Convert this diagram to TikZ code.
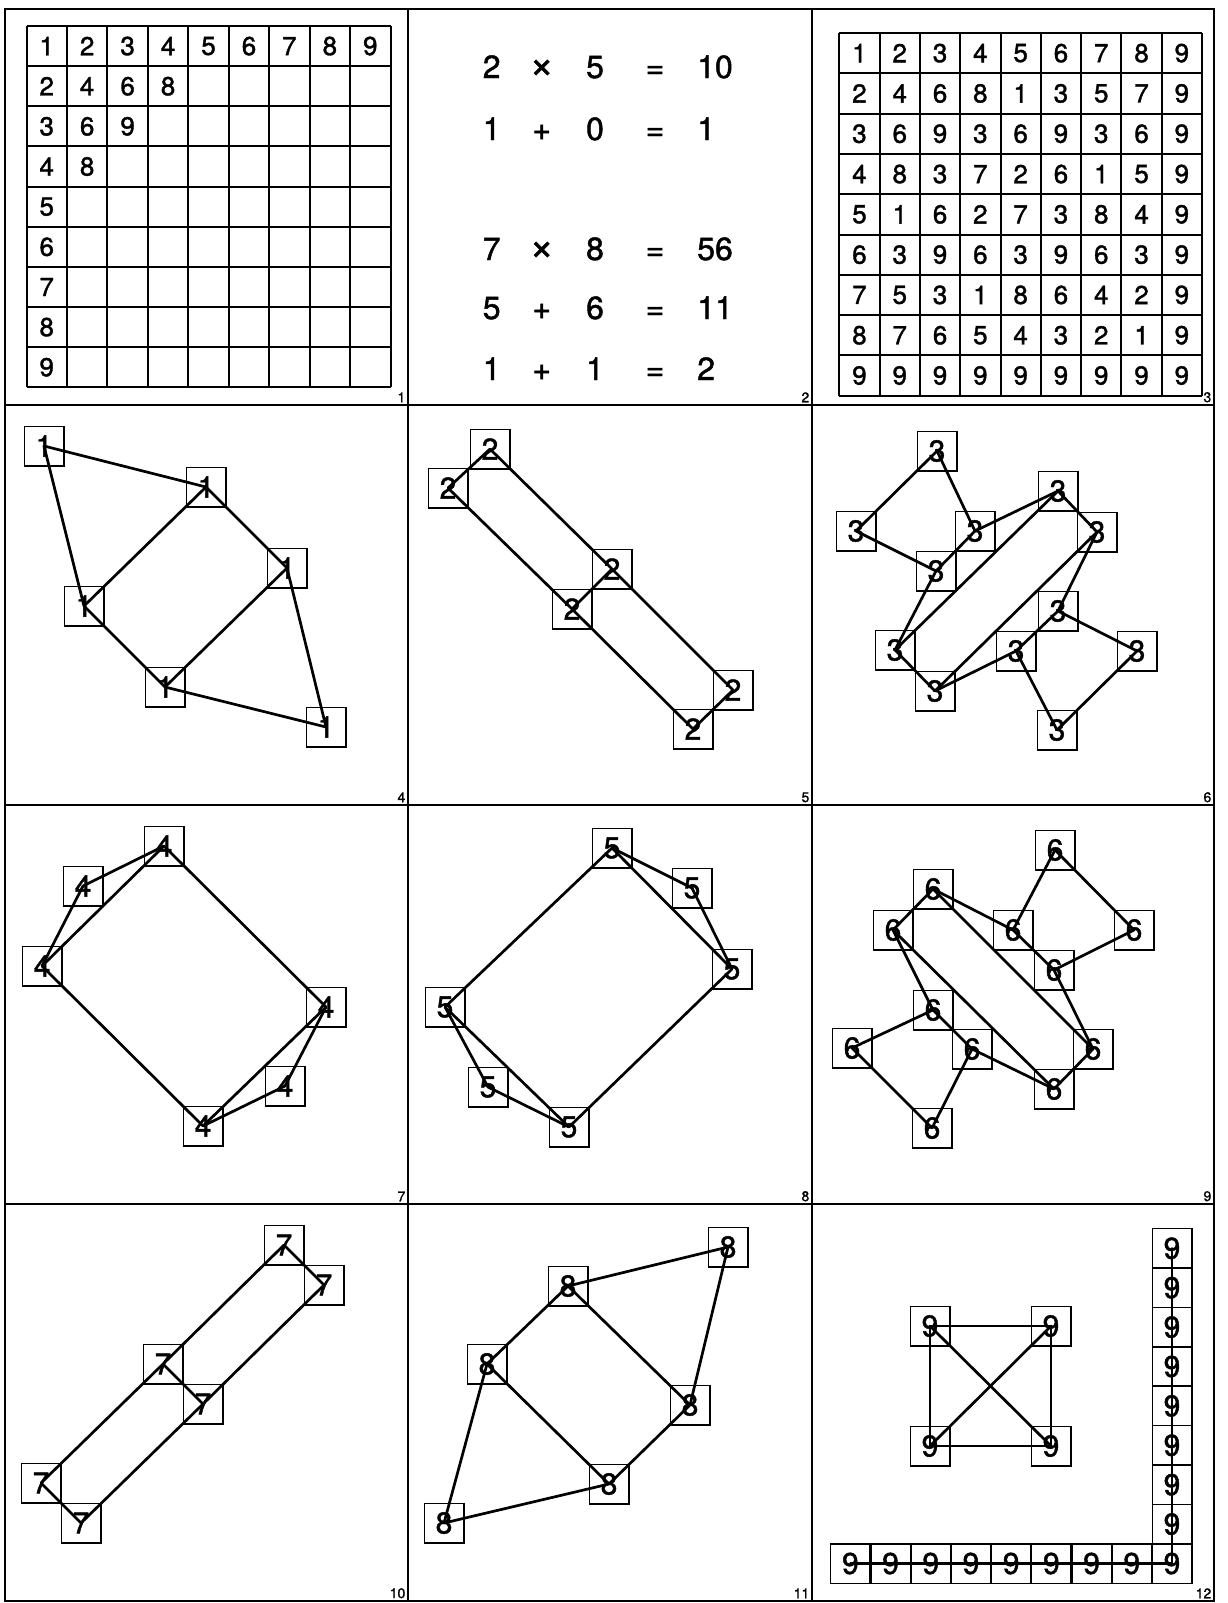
\documentclass[tikz,border=0pt]{standalone}
\usepackage{fontspec}
\setmainfont{TeX Gyre Heros}
\newfontfamily\heavy{TeX Gyre Heros}[FakeBold=1.4]
\begin{document}
\begin{tikzpicture}[x=1pt,y=-1pt,
  frame/.style={line width=2.4pt},
  tabline/.style={line width=2pt},
  tabnum/.style={font=\heavy\fontsize{26}{26}\selectfont, inner sep=0pt},
  eqn/.style={font=\heavy\fontsize{32}{32}\selectfont, inner sep=0pt, anchor=base},
  numbox/.style={draw, line width=1.5pt, minimum width=39.5pt, minimum height=39.5pt, inner sep=0pt, font=\heavy\fontsize{30}{30}\selectfont},
  link/.style={line width=2.7pt, line cap=round},
  plabel/.style={font=\heavy\fontsize{14}{14}\selectfont, inner sep=1.5pt, anchor=south east}]
\useasboundingbox (0,0) rectangle (1228,1603);
% frame
\draw[frame] (5,9) rectangle (1214,1601);
\draw[frame] (408,9) -- (408,1601);
\draw[frame] (812,9) -- (812,1601);
\draw[frame] (5,405) -- (1214,405);
\draw[frame] (5,805) -- (1214,805);
\draw[frame] (5,1204) -- (1214,1204);
% panel labels
\node[plabel] (lab1) at (407,404) {1};
\node[plabel] (lab2) at (811,404) {2};
\node[plabel] (lab3) at (1213,404) {3};
\node[plabel] (lab4) at (407,804) {4};
\node[plabel] (lab5) at (811,804) {5};
\node[plabel] (lab6) at (1213,804) {6};
\node[plabel] (lab7) at (407,1203) {7};
\node[plabel] (lab8) at (811,1203) {8};
\node[plabel] (lab9) at (1213,1203) {9};
\node[plabel] (lab10) at (407,1600) {10};
\node[plabel] (lab11) at (811,1600) {11};
\node[plabel] (lab12) at (1213,1600) {12};
% panel 1: partial table
\foreach \k in {0,...,9} {
  \draw[tabline] ({26.5+40.45*\k},26) -- ({26.5+40.45*\k},387.4);
  \draw[tabline] (26.5,{26+40.15*\k}) -- (390.5,{26+40.15*\k});
}
\foreach \i/\n in {1/9,2/4,3/3,4/2,5/1,6/1,7/1,8/1,9/1}
  \foreach \j in {1,...,\n} {
    \pgfmathtruncatemacro\v{\i*\j}
    \node[tabnum] (pa-\i-\j) at ({26.5+40.45*(\j-0.5)},{26+40.15*(\i-0.5)}) {\v};
  }
% panel 2: equations
\foreach \r/\yy/\A/\B/\C/\D in {1/78/2/{\fontsize{42}{42}\selectfont\texttimes}/5/10, 2/140/1/+/0/1, 3/260/7/{\fontsize{42}{42}\selectfont\texttimes}/8/56, 4/319/5/+/6/11, 5/380/1/+/1/2} {
  \node[eqn] (eq\r a) at (491.7,\yy) {\A};
  \node[eqn] (eq\r b) at (541.7,\yy) {\B};
  \node[eqn] (eq\r c) at (595,\yy) {\C};
  \node[eqn] (eq\r d) at (655,\yy) {=};
  \node[eqn, anchor=base west] (eq\r e) at (697,\yy) {\D};
}
% panel 3: digital-root table
\foreach \k in {0,...,9} {
  \draw[tabline] ({839.3+40.3*\k},33) -- ({839.3+40.3*\k},395.7);
  \draw[tabline] (839.3,{33+40.3*\k}) -- (1202,{33+40.3*\k});
}
\foreach \i in {1,...,9}
  \foreach \j in {1,...,9} {
    \pgfmathtruncatemacro\v{mod(\i*\j-1,9)+1}
    \node[tabnum] (pc-\i-\j) at ({839.3+40.3*(\j-0.5)},{33+40.3*(\i-0.5)}) {\v};
  }
% panel 4
\foreach \n/\x/\y in {a1/44/446, a2/206/487, a3/287/568, a4/84/606, a5/165/687, a6/326/727}
  \node[numbox] (\n) at (\x,\y) {1};
\foreach \p/\q in {a1/a2, a1/a4, a2/a3, a2/a4, a3/a5, a4/a5, a5/a6, a3/a6}
  \draw[link] (\p.center) -- (\q.center);
% panel 5
\foreach \n/\x/\y in {b1/490/449, b2/448/488, b3/612/569, b4/572/609, b5/733/690, b6/693/729}
  \node[numbox] (\n) at (\x,\y) {2};
\foreach \p/\q in {b1/b2, b1/b3, b3/b5, b2/b4, b4/b6, b3/b4, b5/b6}
  \draw[link] (\p.center) -- (\q.center);
% panel 6
\foreach \n/\x/\y in {c1/937/451, c2/856/531, c3/975/531, c4/936/571, c5/1058/491, c6/1097/532, c7/895/650, c8/935/691, c9/1058/611, c10/1016/651, c11/1137/651, c12/1057/730}
  \node[numbox] (\n) at (\x,\y) {3};
\foreach \p/\q in {c1/c2, c1/c3, c2/c4, c3/c4, c3/c5, c4/c7, c7/c5, c5/c6, c6/c8, c7/c8, c6/c9, c8/c10, c9/c10, c9/c11, c10/c12, c11/c12}
  \draw[link] (\p.center) -- (\q.center);
% panel 7
\foreach \n/\x/\y in {d1/164/846, d2/83/886, d3/42/966, d4/326/1007, d5/285/1086, d6/203/1126}
  \node[numbox] (\n) at (\x,\y) {4};
\foreach \p/\q in {d1/d2, d2/d3, d1/d3, d1/d4, d3/d6, d4/d6, d4/d5, d5/d6}
  \draw[link] (\p.center) -- (\q.center);
% panel 8
\foreach \n/\x/\y in {e1/612/848, e2/692/888, e3/732/969, e4/445/1007, e5/488/1087, e6/569/1127}
  \node[numbox] (\n) at (\x,\y) {5};
\foreach \p/\q in {e1/e2, e2/e3, e1/e3, e1/e4, e4/e5, e4/e6, e5/e6, e3/e6}
  \draw[link] (\p.center) -- (\q.center);
% panel 9
\foreach \n/\x/\y in {f1/1055/850, f2/933/889, f3/893/930, f4/1013/930, f5/1134/930, f6/1054/970, f7/933/1010, f8/852/1048, f9/972/1049, f10/1093/1049, f11/1054/1089, f12/932/1128}
  \node[numbox] (\n) at (\x,\y) {6};
\foreach \p/\q in {f1/f4, f1/f5, f4/f6, f5/f6, f2/f3, f2/f4, f2/f10, f3/f7, f3/f11, f6/f10, f7/f8, f7/f9, f9/f11, f10/f11, f8/f12, f9/f12}
  \draw[link] (\p.center) -- (\q.center);
% panel 10
\foreach \n/\x/\y in {g1/284/1245, g2/324/1285, g3/163/1364, g4/203/1404, g5/41/1483, g6/81/1523}
  \node[numbox] (\n) at (\x,\y) {7};
\foreach \p/\q in {g1/g2, g3/g4, g5/g6, g1/g3, g3/g5, g2/g4, g4/g6}
  \draw[link] (\p.center) -- (\q.center);
% panel 11
\foreach \n/\x/\y in {h1/728/1247, h2/568/1286, h3/487/1364, h4/690/1405, h5/609/1484, h6/444/1523}
  \node[numbox] (\n) at (\x,\y) {8};
\foreach \p/\q in {h1/h2, h1/h4, h2/h3, h2/h4, h3/h5, h3/h6, h4/h5, h5/h6}
  \draw[link] (\p.center) -- (\q.center);
% panel 12
\foreach \n/\x/\y in {k1/930/1326, k2/1051/1326, k3/930/1446, k4/1051/1446}
  \node[numbox] (\n) at (\x,\y) {9};
\foreach \p/\q in {k1/k2, k1/k3, k1/k4, k2/k3, k2/k4, k3/k4}
  \draw[link] (\p.center) -- (\q.center);
\foreach \k in {1,...,9}
  \node[numbox] (kr\k) at ({1172-40.2*(9-\k)},1563.5) {9};
\foreach \k in {1,...,8}
  \node[numbox] (kc\k) at (1172,{1563.5-39.4*(9-\k)}) {9};
\draw[link] (kc1.center) -- (kr9.center);
\draw[link] (kr1.center) -- (kr9.center);
\end{tikzpicture}
\end{document}
